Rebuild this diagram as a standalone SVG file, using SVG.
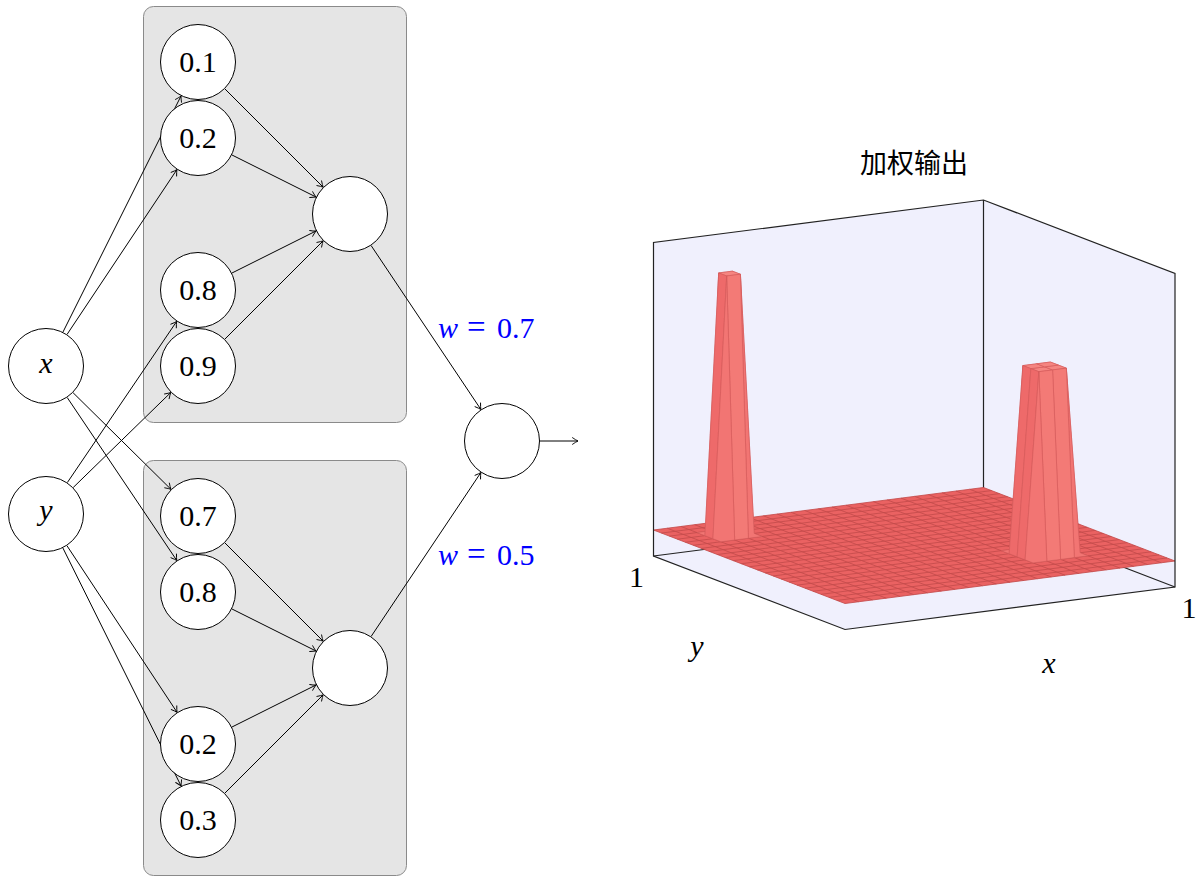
<svg xmlns="http://www.w3.org/2000/svg" width="1201" height="877" viewBox="0 0 1201 877">
<style>
.box{fill:#e5e5e5;stroke:#8a8a8a;stroke-width:1}
.nd{fill:#fff;stroke:#000;stroke-width:1}
.lb{font-family:"Liberation Serif","DejaVu Serif",serif;font-size:30px;fill:#000;text-anchor:middle}
.it{font-style:italic}
.wl{font-family:"Liberation Serif","DejaVu Serif",serif;font-size:30px;fill:#0000ff}
.cn{fill:none;stroke:#000;stroke-width:1;marker-end:url(#arr)}
.edge{fill:none;stroke:#222;stroke-width:1.2}
.grid{fill:none;stroke:#c44c4c;stroke-width:0.85}
.sp{stroke:#d35b5b;stroke-width:0.6;stroke-linejoin:round}
.bk{fill:#f07070}
.tp{fill:#f58581}
.fl{fill:#ee6a6a}
.fr{fill:#f37a76}
.cr{fill:#f27573}
</style>
<defs>
<marker id="arr" viewBox="-7 -5 8 10" refX="0" refY="0" markerWidth="8" markerHeight="10" markerUnits="userSpaceOnUse" orient="auto">
<path d="M-5.5,-3.3 Q-2,-0.9 0,0 Q-2,0.9 -5.5,3.3" fill="none" stroke="#000" stroke-width="0.9" stroke-linecap="round"/>
</marker>
</defs>

<rect id="group-top" class="box" x="143.5" y="6.5" width="263" height="416" rx="10"/>
<rect id="group-bottom" class="box" x="143.5" y="460.5" width="263" height="415" rx="10"/>

<g id="connectors">
<path class="cn" d="M62.99,332.01 L181.01,95.99"/>
<path class="cn" d="M67.08,334.38 L176.92,169.62"/>
<path class="cn" d="M73.05,392.69 L170.95,489.31"/>
<path class="cn" d="M67.21,397.53 L176.79,560.47"/>
<path class="cn" d="M67.34,482.55 L176.66,321.45"/>
<path class="cn" d="M73.23,487.49 L170.77,392.51"/>
<path class="cn" d="M66.95,545.70 L177.05,712.30"/>
<path class="cn" d="M62.91,548.03 L181.09,785.97"/>
<path class="cn" d="M224.87,88.87 L323.13,187.13"/>
<path class="cn" d="M231.99,154.99 L316.01,197.01"/>
<path class="cn" d="M231.99,273.01 L316.01,230.99"/>
<path class="cn" d="M224.87,339.13 L323.13,240.87"/>
<path class="cn" d="M224.87,542.87 L323.13,641.13"/>
<path class="cn" d="M231.99,608.99 L316.01,651.01"/>
<path class="cn" d="M231.99,727.01 L316.01,684.99"/>
<path class="cn" d="M224.87,793.13 L323.13,694.87"/>
<path class="cn" d="M371.14,245.57 L480.86,409.43"/>
<path class="cn" d="M371.14,636.43 L480.86,472.57"/>
<path class="cn" d="M540,441 L578,441"/>
</g>

<g id="node-x"><circle class="nd" cx="46" cy="366" r="37.5"/><text class="lb it" x="46" y="373">x</text></g>
<g id="node-y"><circle class="nd" cx="46" cy="514" r="37.5"/><text class="lb it" x="46" y="520">y</text></g>
<g id="node-t1"><circle class="nd" cx="198" cy="62" r="37.5"/><text class="lb" x="198" y="72">0.1</text></g>
<g id="node-t2"><circle class="nd" cx="198" cy="138" r="37.5"/><text class="lb" x="198" y="148">0.2</text></g>
<g id="node-t3"><circle class="nd" cx="198" cy="290" r="37.5"/><text class="lb" x="198" y="300">0.8</text></g>
<g id="node-t4"><circle class="nd" cx="198" cy="366" r="37.5"/><text class="lb" x="198" y="376">0.9</text></g>
<g id="node-m1"><circle class="nd" cx="350" cy="214" r="37.5"/></g>
<g id="node-b1"><circle class="nd" cx="198" cy="516" r="37.5"/><text class="lb" x="198" y="526">0.7</text></g>
<g id="node-b2"><circle class="nd" cx="198" cy="592" r="37.5"/><text class="lb" x="198" y="602">0.8</text></g>
<g id="node-b3"><circle class="nd" cx="198" cy="744" r="37.5"/><text class="lb" x="198" y="754">0.2</text></g>
<g id="node-b4"><circle class="nd" cx="198" cy="820" r="37.5"/><text class="lb" x="198" y="830">0.3</text></g>
<g id="node-m2"><circle class="nd" cx="350" cy="668" r="37.5"/></g>
<g id="node-out"><circle class="nd" cx="502" cy="441" r="37.5"/></g>

<g id="weight-labels">
<text class="wl" y="338"><tspan x="438" font-style="italic">w</tspan><tspan x="467" font-size="33">=</tspan><tspan x="497">0.7</tspan></text>
<text class="wl" y="565"><tspan x="438" font-style="italic">w</tspan><tspan x="467" font-size="33">=</tspan><tspan x="497">0.5</tspan></text>
</g>

<g id="plot">
<text x="914" y="173" font-family="'Noto Sans CJK SC','Noto Sans',sans-serif" font-size="27" text-anchor="middle" fill="#000">加权输出</text>
<polygon points="653.5,242.5 983.5,200 1175,273.5 1175,587 845,629.5 653.5,556" fill="#f0f0fd"/>
<path class="edge" d="M983.5,200 V513.5 M653.5,556 L983.5,513.5 L1175,587"/>
<g transform="matrix(13.75 -1.7708 -7.9792 -3.0625 845 603.5)">
<rect x="0" y="0" width="24" height="24" fill="#ea6262"/>
<path class="grid" vector-effect="non-scaling-stroke" d="M0 0V24M1 0V24M2 0V24M3 0V24M4 0V24M5 0V24M6 0V24M7 0V24M8 0V24M9 0V24M10 0V24M11 0V24M12 0V24M13 0V24M14 0V24M15 0V24M16 0V24M17 0V24M18 0V24M19 0V24M20 0V24M21 0V24M22 0V24M23 0V24M24 0V24M0 0H24M0 1H24M0 2H24M0 3H24M0 4H24M0 5H24M0 6H24M0 7H24M0 8H24M0 9H24M0 10H24M0 11H24M0 12H24M0 13H24M0 14H24M0 15H24M0 16H24M0 17H24M0 18H24M0 19H24M0 20H24M0 21H24M0 22H24M0 23H24M0 24H24"/>
</g>
<g id="spike-1">
<polygon class="sp bk" points="732.44,271.14 746.19,530.33 738.21,527.27 724.46,529.04"/>
<polygon class="sp bk" points="718.69,272.91 732.44,271.14 724.46,529.04 710.71,530.81"/>
<polygon class="sp bk" points="740.42,274.21 754.17,533.40 746.19,530.33 732.44,271.14"/>
<polygon class="sp tp" points="726.67,275.98 740.42,274.21 732.44,271.14 718.69,272.91"/>
<polygon class="sp cr" points="704.94,535.65 718.69,272.91 710.71,530.81 696.96,532.59"/>
<polygon class="sp fl" points="712.92,538.71 726.67,275.98 718.69,272.91 704.94,535.65"/>
<polygon class="sp cr" points="748.40,538.23 762.15,536.46 754.17,533.40 740.42,274.21"/>
<polygon class="sp fr" points="734.65,540.00 748.40,538.23 740.42,274.21 726.67,275.98"/>
<polygon class="sp cr" points="720.90,541.77 734.65,540.00 726.67,275.98 712.92,538.71"/>
</g>
<g id="spike-2">
<polygon class="sp bk" points="1050.40,362.01 1064.15,546.65 1056.17,543.58 1042.42,545.35"/>
<polygon class="sp bk" points="1036.65,363.79 1050.40,362.01 1042.42,545.35 1028.67,547.13"/>
<polygon class="sp bk" points="1022.90,365.56 1036.65,363.79 1028.67,547.13 1014.92,548.90"/>
<polygon class="sp bk" points="1058.38,365.08 1072.13,549.71 1064.15,546.65 1050.40,362.01"/>
<polygon class="sp bk" points="1066.35,368.14 1080.10,552.77 1072.13,549.71 1058.38,365.08"/>
<polygon class="sp tp" points="1038.85,371.69 1052.60,369.91 1044.63,366.85 1030.88,368.62"/>
<polygon class="sp tp" points="1052.60,369.91 1066.35,368.14 1058.38,365.08 1044.63,366.85"/>
<polygon class="sp tp" points="1030.88,368.62 1044.63,366.85 1036.65,363.79 1022.90,365.56"/>
<polygon class="sp tp" points="1044.63,366.85 1058.38,365.08 1050.40,362.01 1036.65,363.79"/>
<polygon class="sp cr" points="1009.15,553.73 1022.90,365.56 1014.92,548.90 1001.17,550.67"/>
<polygon class="sp fl" points="1017.13,556.79 1030.88,368.62 1022.90,365.56 1009.15,553.73"/>
<polygon class="sp fl" points="1025.10,559.86 1038.85,371.69 1030.88,368.62 1017.13,556.79"/>
<polygon class="sp cr" points="1074.33,557.60 1088.08,555.83 1080.10,552.77 1066.35,368.14"/>
<polygon class="sp fr" points="1060.58,559.38 1074.33,557.60 1066.35,368.14 1052.60,369.91"/>
<polygon class="sp fr" points="1046.83,561.15 1060.58,559.38 1052.60,369.91 1038.85,371.69"/>
<polygon class="sp cr" points="1033.08,562.92 1046.83,561.15 1038.85,371.69 1025.10,559.86"/>
</g>
<path class="edge" d="M653.5,556 V242.5 L983.5,200 L1175,273.5 V587 L845,629.5 Z"/>
<text class="lb" x="636.5" y="587">1</text>
<text class="lb" x="1189" y="618">1</text>
<text class="lb it" x="697" y="656">y</text>
<text class="lb it" x="1049" y="673">x</text>
</g>
</svg>
